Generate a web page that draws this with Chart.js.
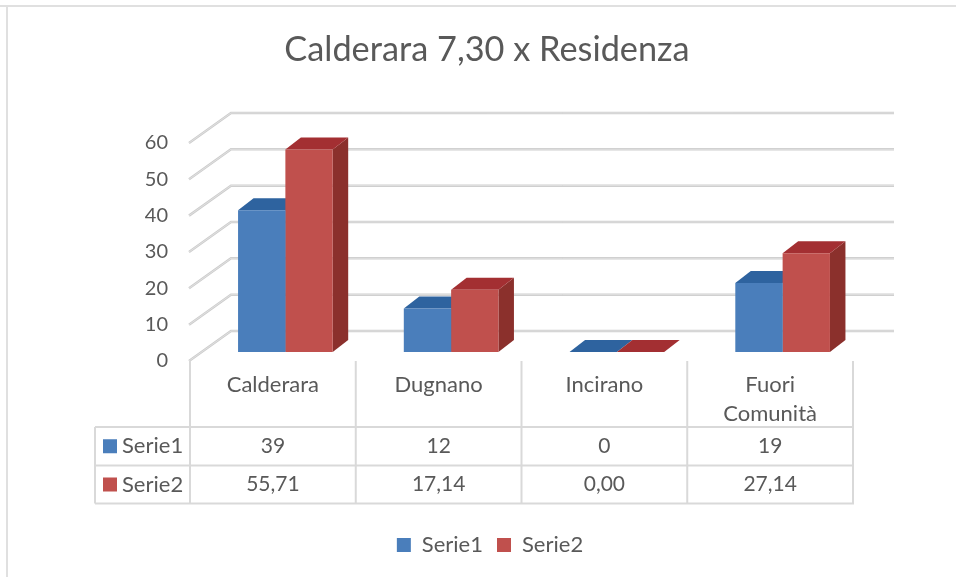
<!DOCTYPE html>
<html>
<head>
<meta charset="utf-8">
<title>Calderara 7,30 x Residenza</title>
<script src="https://cdn.jsdelivr.net/npm/chart.js@4"></script>
<style>
    html, body { margin: 0; padding: 0; background: #fff; }
    canvas { display: block; }
</style>
</head>
<body>
<canvas id="chart" width="956" height="577"></canvas>
<script>
const categories = ["Calderara", "Dugnano", "Incirano", ["Fuori", "Comunità"]];
const serie1 = [39, 12, 0, 19];
const serie2 = [55.71, 17.14, 0, 27.14];
const serie1Text = ["39", "12", "0", "19"];
const serie2Text = ["55,71", "17,14", "0,00", "27,14"];

const FONT = "Lato, Carlito, sans-serif";
const TEXT = "#595959";
const LINE = "#d9d9d9";

// Muri del grafico 3D: griglia sul fianco e sul fondo
function drawWalls(chart) {
    const ctx = chart.ctx;
    const y = chart.scales.y;
    const x = chart.scales.x;
    y.ticks.forEach(t => {
        const py = y.getPixelForValue(t.value);
        ctx.beginPath();
        ctx.moveTo(x.left - 1, py);
        ctx.lineTo(x.left + 41, py - 30);
        ctx.lineTo(x.right + 41, py - 30);
        ctx.lineWidth = 2.5;
        ctx.strokeStyle = "#cdcdcd";
        ctx.stroke();
        ctx.lineWidth = 0.8;
        ctx.strokeStyle = "#e4e4e4";
        ctx.stroke();
    });
}

// Tabella dati sotto l'asse x
function drawTable(chart) {
    const ctx = chart.ctx;
    const x = chart.scales.x;
    const rows = [427, 465.5, 503.5];
    const tableLeft = 95;
    const top = chart.chartArea.bottom;

    ctx.strokeStyle = LINE;
    ctx.lineWidth = 2;
    ctx.beginPath();
    rows.forEach(r => {
        ctx.moveTo(tableLeft, r);
        ctx.lineTo(x.right + 1, r);
    });
    ctx.moveTo(tableLeft, rows[0]);
    ctx.lineTo(tableLeft, rows[2]);
    const step = (x.right - x.left) / categories.length;
    for (let i = 0; i <= categories.length; i++) {
        ctx.moveTo(x.left + i * step, top);
        ctx.lineTo(x.left + i * step, rows[2]);
    }
    ctx.stroke();

    ctx.textBaseline = "middle";
    chart.data.datasets.forEach((ds, r) => {
        const cy = (rows[r] + rows[r + 1]) / 2;
        ctx.fillStyle = ds.backgroundColor;
        ctx.fillRect(103, cy - 7, 14, 14);
        ctx.fillStyle = TEXT;
        ctx.font = "22px " + FONT;
        ctx.textAlign = "left";
        ctx.fillText(ds.label, 122, cy);
        ctx.font = "21px " + FONT;
        ctx.textAlign = "center";
        const texts = r === 0 ? serie1Text : serie2Text;
        texts.forEach((t, i) => ctx.fillText(t, x.getPixelForValue(i), cy));
    });
}

const box3d = {
    id: "box3d",
    beforeDraw(chart) {
        // cornice
        const ctx = chart.ctx;
        ctx.save();
        ctx.strokeStyle = "#e0e0e0";
        ctx.lineWidth = 2;
        ctx.beginPath();
        ctx.moveTo(0, 6);
        ctx.lineTo(chart.width, 6);
        ctx.moveTo(7, 6);
        ctx.lineTo(7, chart.height);
        ctx.stroke();
        ctx.restore();
    },
    afterLayout(chart) {
        chart.legend.left += 3;
        chart.legend.right += 3;
    },
    beforeDatasetsDraw(chart) {
        const ctx = chart.ctx;
        drawWalls(chart);
        ctx.save();
        // le barre stanno davanti al fondo, spostate rispetto al piano frontale
        ctx.translate(12.5, -9);
        const dx = 15.5, dy = 12;
        const faces = [
            { top: "#2e639f", side: "#2a5788" },
            { top: "#a32f32", side: "#8b302c" },
        ];
        [0, 1].forEach(d => {
            chart.getDatasetMeta(d).data.forEach(bar => {
                const left = bar.x - bar.width / 2;
                const right = bar.x + bar.width / 2;
                ctx.fillStyle = faces[d].side;
                ctx.beginPath();
                ctx.moveTo(right, bar.y);
                ctx.lineTo(right + dx, bar.y - dy);
                ctx.lineTo(right + dx, bar.base - dy);
                ctx.lineTo(right, bar.base);
                ctx.closePath();
                ctx.fill();
                ctx.fillStyle = faces[d].top;
                ctx.beginPath();
                ctx.moveTo(left, bar.y);
                ctx.lineTo(left + dx, bar.y - dy);
                ctx.lineTo(right + dx, bar.y - dy);
                ctx.lineTo(right, bar.y);
                ctx.closePath();
                ctx.fill();
            });
        });
    },
    afterDatasetsDraw(chart) {
        chart.ctx.restore();
        chart.ctx.save();
        drawTable(chart);
        chart.ctx.restore();
    },
};

new Chart(document.getElementById("chart"), {
    type: "bar",
    data: {
        labels: categories,
        datasets: [
            { label: "Serie1", data: serie1, backgroundColor: "#4a7ebb", clip: false },
            { label: "Serie2", data: serie2, backgroundColor: "#c0504d", clip: false },
        ],
    },
    options: {
        responsive: false,
        animation: false,
        layout: { padding: { left: 121, right: 103, top: 0, bottom: 11 } },
        datasets: { bar: { categoryPercentage: 0.571, barPercentage: 1, borderWidth: 0 } },
        plugins: {
            title: {
                display: true,
                text: "Calderara 7,30 x Residenza",
                color: TEXT,
                font: { family: FONT, size: 34.3, weight: "normal" },
                padding: { top: 29.4, bottom: 72.4 },
            },
            legend: {
                position: "bottom",
                labels: {
                    color: TEXT,
                    boxWidth: 14,
                    boxHeight: 14,
                    padding: 14,
                    font: { family: FONT, size: 22 },
                },
            },
            tooltip: { enabled: false },
        },
        scales: {
            x: {
                grid: { display: false },
                border: { display: false },
                afterFit: (scale) => { scale.height = 159; },
                ticks: {
                    color: TEXT,
                    padding: 1,
                    maxRotation: 0,
                    autoSkip: false,
                    font: { family: FONT, size: 22, lineHeight: 1.32 },
                },
            },
            y: {
                min: 0,
                max: 60,
                grid: { display: false },
                border: { display: false },
                afterFit: (scale) => { scale.width = 69; },
                ticks: {
                    color: TEXT,
                    padding: 14,
                    stepSize: 10,
                    font: { family: FONT, size: 20 },
                },
            },
        },
    },
    plugins: [box3d],
});
</script>
</body>
</html>
